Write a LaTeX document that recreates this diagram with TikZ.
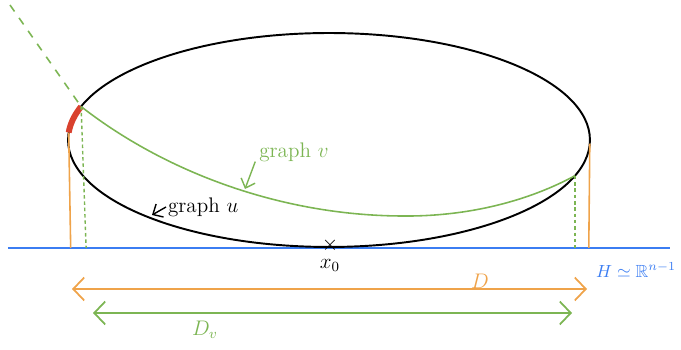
\documentclass[tikz,border=0pt]{standalone}
\usepackage{amssymb}
\usetikzlibrary{positioning,arrows.meta,calc}
\definecolor{cgreen}{HTML}{7CB553}
\definecolor{corange}{HTML}{EFA34A}
\definecolor{cblue}{HTML}{3B7DF2}
\definecolor{cred}{HTML}{D9412E}
\tikzset{
  bound/.style={draw=black, line width=1.1pt},
  gcurve/.style={draw=cgreen, line width=0.9pt},
  guide/.style={draw=cgreen, line width=0.8pt, dash pattern=on 2pt off 1.6pt},
  wall/.style={draw=corange, line width=0.9pt},
  span/.style={{Straight Barb[length=2.2mm,width=4.6mm]}-{Straight Barb[length=2.2mm,width=4.6mm]}, line width=1pt},
  pointer/.style={-{Straight Barb[length=1.6mm,width=3mm]}, line width=0.8pt},
  lbl/.style={font=\large, inner sep=1pt}
}

\begin{document}
\begin{tikzpicture}[x=0.02cm, y=-0.02cm]
\useasboundingbox (0,0) rectangle (681,350);
\coordinate (c) at (329,140);
% plane H
\coordinate (h0) at (8,248);
\coordinate (h1) at (670,248);
\draw[cblue, line width=1.1pt] (h0) -- (h1);
\node[cblue, anchor=east, inner sep=1pt] (hlab) at (678,270) {$H\simeq\mathbb{R}^{n-1}$};
% the domain
\draw[bound] (c) ellipse [x radius=5.22cm, y radius=2.14cm];
\path (c) ++(161.8:5.22cm and 2.14cm) coordinate (a);
\path (c) ++(176:5.22cm and 2.14cm) coordinate (wl);
\path (c) ++(-2:5.22cm and 2.14cm) coordinate (wr);
\path (c) ++(-19.5:5.22cm and 2.14cm) coordinate (b);
\draw[cred, line width=3.4pt] (a) arc[start angle=161.8, end angle=176, x radius=5.22cm, y radius=2.14cm];
% graph v
\coordinate (vfar) at (10,5);
\draw[gcurve, dash pattern=on 4.5pt off 4.5pt] (vfar) -- (a);
\draw[gcurve] (a) .. controls (165,172) and (280,215) .. (400,216)
  .. controls (470,217) and (530,200) .. (b);
% feet on H
\draw[wall] (wl) -- ($(wl |- h0)+(2,0)$);
\draw[wall] (wr) -- ($(wr |- h0)+(-1,0)$);
\draw[guide] (a) -- ($(a |- h0)+(5,0)$);
\draw[guide] (b) -- (b |- h0);
% x_0
\node[font=\large, inner sep=0pt] (x0) at (330,245) {$\times$};
\node[lbl, below=3pt of x0] (x0lab) {$x_0$};
% labels
\node[lbl, cgreen] (gv) at (294,152) {graph $v$};
\coordinate (gvtip) at (245,189);
\draw[gcurve, pointer] ($(gv.south west)+(-2,-2)$) -- (gvtip);
\node[lbl, anchor=west] (gu) at (166,207) {graph $u$};
\coordinate (gutip) at (152,215);
\draw[pointer] (gu.west) -- (gutip);
% widths
\coordinate (dl) at (72,289);
\coordinate (dr) at (587,289);
\draw[span, corange] (dl) -- (dr);
\node[lbl, corange, anchor=south] (dlab) at (480,291) {$D$};
\coordinate (vl) at (93,313);
\coordinate (vr) at (572,313);
\draw[span, cgreen] (vl) -- (vr);
\node[lbl, cgreen] (vlab) at (205,330) {$D_v$};
\end{tikzpicture}
\end{document}
